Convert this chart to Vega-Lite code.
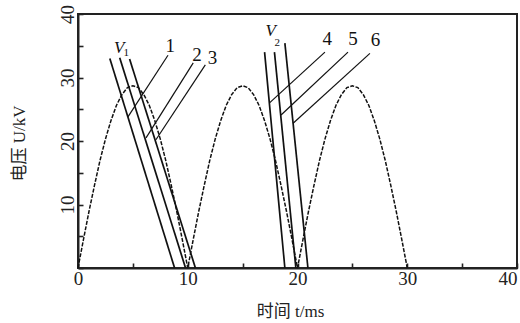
{
  "$schema": "https://vega.github.io/schema/vega-lite/v6.json",
  "width": 439,
  "height": 254,
  "autosize": "none",
  "padding": {"left": 78, "top": 14, "right": 3, "bottom": 55},
  "background": "white",
  "config": {
    "view": {"stroke": "#222", "strokeWidth": 2},
    "axis": {
      "grid": false,
      "zindex": 1,
      "domainColor": "#222",
      "domainWidth": 2,
      "tickColor": "#222",
      "tickSize": -5,
      "tickWidth": 1.6,
      "labelFont": "Liberation Serif",
      "labelFontSize": 19,
      "labelColor": "#222",
      "titleFont": "Liberation Serif, Noto Sans CJK SC",
      "titleFontSize": 17,
      "titleFontWeight": "normal",
      "titleColor": "#222"
    }
  },
  "encoding": {
    "x": {
      "field": "t",
      "type": "quantitative",
      "scale": {"domain": [0, 40], "nice": false},
      "axis": {
        "values": [0, 5, 10, 15, 20, 25, 30, 35, 40],
        "labelExpr": "datum.value % 10 === 0 ? datum.label : ''",
        "labelAlign": {"expr": "datum.value === 40 ? 'right' : 'center'"},
        "labelPadding": 6,
        "labelFlush": false,
        "title": "时间  t/ms",
        "titleX": 212,
        "titleY": 48,
        "titleBaseline": "alphabetic"
      }
    },
    "y": {
      "field": "u",
      "type": "quantitative",
      "scale": {"domain": [0, 40], "nice": false},
      "axis": {
        "values": [0, 5, 10, 15, 20, 25, 30, 35, 40],
        "labelExpr": "datum.value % 10 === 0 && datum.value > 0 ? datum.label : ''",
        "labelAngle": -90,
        "labelAlign": "center",
        "labelBaseline": "bottom",
        "labelPadding": 6,
        "labelFlush": false,
        "title": "电压  U/kV",
        "titleAngle": -90,
        "titleX": -50,
        "titleY": 129,
        "titleBaseline": "bottom",
        "titleAlign": "center"
      }
    }
  },
  "layer": [
    {
      "data": {"values": [
        {"t": 0, "u": 0}, {"t": 0.5, "u": 4.5}, {"t": 1, "u": 8.9}, {"t": 1.5, "u": 13.0}, {"t": 2, "u": 16.9}, {"t": 2.5, "u": 20.3}, {"t": 3, "u": 23.2}, {"t": 3.5, "u": 25.6}, {"t": 4, "u": 27.3}, {"t": 4.5, "u": 28.4}, {"t": 5, "u": 28.7}, {"t": 5.5, "u": 28.4}, {"t": 6, "u": 27.3}, {"t": 6.5, "u": 25.6}, {"t": 7, "u": 23.2}, {"t": 7.5, "u": 20.3}, {"t": 8, "u": 16.9}, {"t": 8.5, "u": 13.0}, {"t": 9, "u": 8.9}, {"t": 9.5, "u": 4.5}, {"t": 10, "u": 0},
        {"t": 10.5, "u": 4.5}, {"t": 11, "u": 8.9}, {"t": 11.5, "u": 13.0}, {"t": 12, "u": 16.9}, {"t": 12.5, "u": 20.3}, {"t": 13, "u": 23.2}, {"t": 13.5, "u": 25.6}, {"t": 14, "u": 27.3}, {"t": 14.5, "u": 28.4}, {"t": 15, "u": 28.7}, {"t": 15.5, "u": 28.4}, {"t": 16, "u": 27.3}, {"t": 16.5, "u": 25.6}, {"t": 17, "u": 23.2}, {"t": 17.5, "u": 20.3}, {"t": 18, "u": 16.9}, {"t": 18.5, "u": 13.0}, {"t": 19, "u": 8.9}, {"t": 19.5, "u": 4.5}, {"t": 20, "u": 0},
        {"t": 20.5, "u": 4.5}, {"t": 21, "u": 8.9}, {"t": 21.5, "u": 13.0}, {"t": 22, "u": 16.9}, {"t": 22.5, "u": 20.3}, {"t": 23, "u": 23.2}, {"t": 23.5, "u": 25.6}, {"t": 24, "u": 27.3}, {"t": 24.5, "u": 28.4}, {"t": 25, "u": 28.7}, {"t": 25.5, "u": 28.4}, {"t": 26, "u": 27.3}, {"t": 26.5, "u": 25.6}, {"t": 27, "u": 23.2}, {"t": 27.5, "u": 20.3}, {"t": 28, "u": 16.9}, {"t": 28.5, "u": 13.0}, {"t": 29, "u": 8.9}, {"t": 29.5, "u": 4.5}, {"t": 30, "u": 0}
      ]},
      "mark": {"type": "line", "color": "#111", "strokeWidth": 1.5, "strokeDash": [4, 1.5]}
    },
    {
      "data": {"values": [
        {"s": "1", "t": 2.9, "u": 33.0}, {"s": "1", "t": 8.8, "u": 0},
        {"s": "2", "t": 3.8, "u": 33.1}, {"s": "2", "t": 9.8, "u": 0},
        {"s": "3", "t": 4.7, "u": 32.9}, {"s": "3", "t": 10.7, "u": 0},
        {"s": "4", "t": 17.0, "u": 34.0}, {"s": "4", "t": 18.85, "u": 0},
        {"s": "5", "t": 17.9, "u": 34.0}, {"s": "5", "t": 19.85, "u": 0},
        {"s": "6", "t": 18.85, "u": 35.4}, {"s": "6", "t": 20.95, "u": 0}
      ]},
      "mark": {"type": "line", "color": "#111", "strokeWidth": 1.7},
      "encoding": {"detail": {"field": "s"}}
    },
    {
      "data": {"values": [
        {"s": "L1", "t": 8.2, "u": 33.5}, {"s": "L1", "t": 4.55, "u": 23.8},
        {"s": "L2", "t": 10.5, "u": 32.3}, {"s": "L2", "t": 6.2, "u": 20.5},
        {"s": "L3", "t": 11.6, "u": 32.0}, {"s": "L3", "t": 7.1, "u": 20.2},
        {"s": "L4", "t": 22.5, "u": 34.0}, {"s": "L4", "t": 17.45, "u": 26.0},
        {"s": "L5", "t": 24.6, "u": 34.0}, {"s": "L5", "t": 18.5, "u": 24.1},
        {"s": "L6", "t": 26.6, "u": 33.8}, {"s": "L6", "t": 19.6, "u": 22.8}
      ]},
      "mark": {"type": "line", "color": "#111", "strokeWidth": 1.2},
      "encoding": {"detail": {"field": "s"}}
    },
    {
      "data": {"values": [
        {"label": "1", "t": 8.4, "u": 34.9},
        {"label": "2", "t": 10.85, "u": 33.6},
        {"label": "3", "t": 12.25, "u": 33.0},
        {"label": "4", "t": 22.7, "u": 36.1},
        {"label": "5", "t": 25.05, "u": 36.1},
        {"label": "6", "t": 27.1, "u": 35.9}
      ]},
      "mark": {"type": "text", "font": "Liberation Serif", "fontSize": 19, "color": "#111", "align": "center", "baseline": "middle"},
      "encoding": {"text": {"field": "label"}}
    },
    {
      "data": {"values": [
        {"label": "V", "t": 3.75, "u": 34.6},
        {"label": "V", "t": 17.55, "u": 37.4}
      ]},
      "mark": {"type": "text", "font": "Liberation Serif", "fontStyle": "italic", "fontSize": 17, "color": "#111", "align": "center", "baseline": "middle"},
      "encoding": {"text": {"field": "label"}}
    },
    {
      "data": {"values": [
        {"label": "1", "t": 4.4, "u": 33.9},
        {"label": "2", "t": 18.15, "u": 35.4}
      ]},
      "mark": {"type": "text", "font": "Liberation Serif", "fontSize": 11, "color": "#111", "align": "center", "baseline": "middle"},
      "encoding": {"text": {"field": "label"}}
    }
  ]
}
